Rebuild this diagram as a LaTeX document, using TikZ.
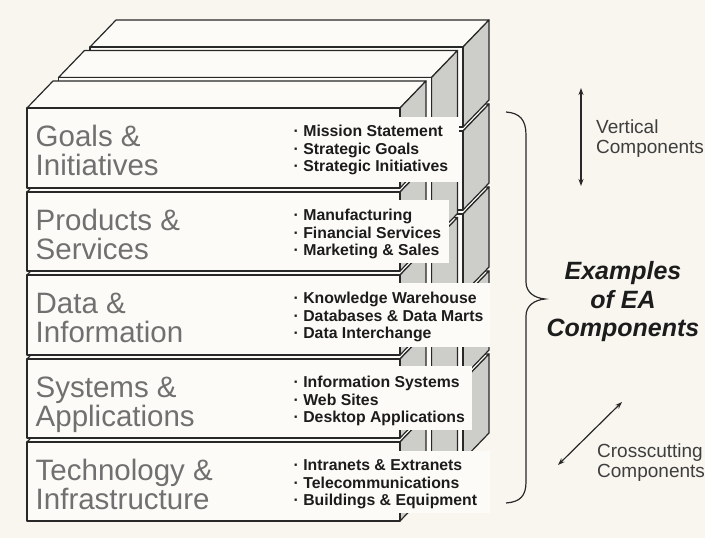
\documentclass[tikz,border=0pt]{standalone}
\usepackage{fontspec}
\setmainfont{Liberation Sans}
\usetikzlibrary{arrows.meta}
\definecolor{bg}{RGB}{248,246,239}
\definecolor{face}{RGB}{252,251,248}
\definecolor{sidegray}{RGB}{205,205,202}
\definecolor{edgec}{RGB}{40,40,40}
\definecolor{lbl}{RGB}{112,112,112}
\definecolor{ink}{RGB}{28,28,28}
\tikzset{
  facestyle/.style={fill=face, draw=edgec, line width=1.2pt, line join=round},
  sidestyle/.style={fill=sidegray, draw=edgec, line width=1.2pt, line join=round},
  patch/.style={fill=face, draw=none},
  layername/.style={anchor=base west, inner sep=0pt, text=lbl, font=\fontsize{29.5}{30}\selectfont},
  item/.style={anchor=base west, inner sep=0pt, text=ink, font=\bfseries\fontsize{15.8}{17.5}\selectfont},
  sidelabel/.style={anchor=base west, inner sep=0pt, text=ink!85, font=\fontsize{19}{20}\selectfont},
  arrowline/.style={draw=edgec, line width=1.2pt, {Stealth[length=7pt,width=5pt]}-{Stealth[length=7pt,width=5pt]}},
}
\begin{document}
\begin{tikzpicture}[x=1pt, y=-1pt]
\useasboundingbox (0,0) rectangle (705,538);
\fill[bg] (0,0) rectangle (705,538);

% three slabs of five layers, back to front, bottom to top
\foreach \s in {2,1,0} {
  \pgfmathsetmacro\ox{31.5*\s}
  \pgfmathsetmacro\oy{-30.5*\s}
  \begin{scope}[shift={(\ox,\oy)}]
    \foreach \t/\b in {442/521, 359/438, 275/355, 192/271, 108/188} {
      \filldraw[facestyle] (27,\t) -- (400,\t) -- (426,\t-27) -- (53,\t-27) -- cycle;
      \filldraw[sidestyle] (400,\t) -- (426,\t-27) -- (426,\b-27) -- (400,\b) -- cycle;
      \filldraw[facestyle] (27,\t) rectangle (400,\b);
    }
  \end{scope}
}

% label backgrounds
\fill[patch] (286,117) rectangle (459,182);
\fill[patch] (286,200) rectangle (449,263);
\fill[patch] (286,283) rectangle (490,347);
\fill[patch] (286,366) rectangle (472,430);
\fill[patch] (286,451) rectangle (490,513);

% layer names
\node[layername] (g1) at (35.5,146) {Goals \&};
\node[layername] (g2) at (35.5,175) {Initiatives};
\node[layername] (p1) at (35.5,230) {Products \&};
\node[layername] (p2) at (35.5,259) {Services};
\node[layername] (d1) at (35.5,313) {Data \&};
\node[layername] (d2) at (35.5,342) {Information};
\node[layername] (s1) at (35.5,397) {Systems \&};
\node[layername] (s2) at (35.5,426) {Applications};
\node[layername] (t1) at (35.5,480) {Technology \&};
\node[layername] (t2) at (35.5,509) {Infrastructure};

% bullet items
\node[item] (ga) at (293.5,136.5) {· Mission Statement};
\node[item] (gb) at (293.5,154) {· Strategic Goals};
\node[item] (gc) at (293.5,171.5) {· Strategic Initiatives};
\node[item] (pa) at (293.5,220.5) {· Manufacturing};
\node[item] (pb) at (293.5,238) {· Financial Services};
\node[item] (pc) at (293.5,255.5) {· Marketing \& Sales};
\node[item] (da) at (293.5,303.5) {· Knowledge Warehouse};
\node[item] (db) at (293.5,321) {· Databases \& Data Marts};
\node[item] (dc) at (293.5,338.5) {· Data Interchange};
\node[item] (sa) at (293.5,387.5) {· Information Systems};
\node[item] (sb) at (293.5,405) {· Web Sites};
\node[item] (sc) at (293.5,422.5) {· Desktop Applications};
\node[item] (ta) at (293.5,470.5) {· Intranets \& Extranets};
\node[item] (tb) at (293.5,488) {· Telecommunications};
\node[item] (tc) at (293.5,505.5) {· Buildings \& Equipment};

% brace
\draw[edgec, line width=1.2pt] (506,112) .. controls (520,113) and (526,120) .. (526,135)
  -- (526,282) .. controls (526,292) and (534,298) .. (545,299)
  .. controls (534,300) and (526,306) .. (526,316)
  -- (526,482) .. controls (526,496) and (520,502) .. (506,503);

\node[inner sep=0pt, align=center, text=ink, font=\bfseries\itshape\fontsize{25}{28.5}\selectfont] (ex) at (623,302) {Examples\\of EA\\Components};

% vertical arrow
\coordinate (v1) at (581,88);
\coordinate (v2) at (581,186);
\draw[arrowline] (v1) -- (v2);
\node[sidelabel] (vl1) at (596,133) {Vertical};
\node[sidelabel] (vl2) at (596,153) {Components};

% crosscutting arrow
\coordinate (c1) at (558,465);
\coordinate (c2) at (622,402);
\draw[arrowline] (c1) -- (c2);
\node[sidelabel] (cl1) at (597,457) {Crosscutting};
\node[sidelabel] (cl2) at (597,477) {Components};
\end{tikzpicture}
\end{document}
